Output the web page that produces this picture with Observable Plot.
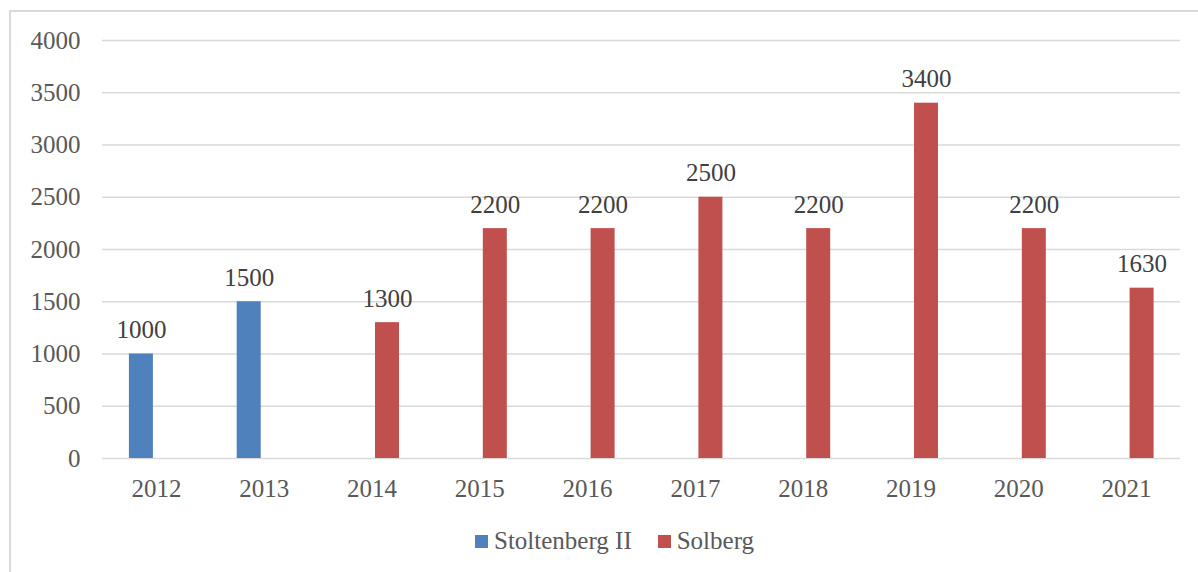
<!DOCTYPE html>
<html>
<head>
<meta charset="utf-8">
<script src="https://cdn.jsdelivr.net/npm/d3@7"></script>
<script src="https://cdn.jsdelivr.net/npm/@observablehq/plot@0.6"></script>
<style>
  body { margin: 0; background: #fff; }
  #wrap { position: relative; width: 1198px; height: 572px; overflow: hidden; font-family: "Liberation Serif", serif; }
  #frame { position: absolute; left: 9px; top: 10px; width: 1210px; height: 580px; border: 2px solid #d9d9d9; box-sizing: border-box; }
  #chart { position: absolute; left: 0; top: 0; }
  #legend { position: absolute; left: 475px; top: 528px; height: 26px; display: flex; align-items: center; font-size: 25px; color: #595959; white-space: nowrap; }
  .sw { display: inline-block; width: 13px; height: 13px; margin-right: 6px; }
  .item { display: flex; align-items: center; margin-right: 26px; }
</style>
</head>
<body>
<div id="wrap">
  <div id="frame"></div>
  <div id="chart"></div>
  <div id="legend"></div>
</div>
<script>
const years = ["2012", "2013", "2014", "2015", "2016", "2017", "2018", "2019", "2020", "2021"];
const series = ["Stoltenberg II", "Solberg"];
const colors = ["#4F81BD", "#C0504D"];
const stoltenberg = [1000, 1500, null, null, null, null, null, null, null, null];
const solberg = [null, null, 1300, 2200, 2200, 2500, 2200, 3400, 2200, 1630];
const yTicks = [0, 500, 1000, 1500, 2000, 2500, 3000, 3500, 4000];

const seriesValues = [stoltenberg, solberg];
const rows = [];
series.forEach((s, si) => {
  years.forEach((y, yi) => {
    const v = seriesValues[si][yi];
    if (v != null) rows.push({ year: y, series: s, value: v });
  });
});

const offsets = { "Stoltenberg II": -15, "Solberg": 15.5 };
const inset = 41.9;

const marks = [
  Plot.ruleY(yTicks, { stroke: "#d9d9d9", strokeWidth: 1.5 }),
  Plot.axisY({ ticks: yTicks, tickFormat: d => String(d), tickSize: 0, tickPadding: 22, label: null, fill: "#595959" }),
  Plot.axisX({ tickSize: 0, tickPadding: 21, label: null, fill: "#595959" })
];
series.forEach(s => {
  const data = rows.filter(d => d.series === s);
  marks.push(Plot.barY(data, {
    x: "year", y: "value", fill: "series",
    insetLeft: inset, insetRight: inset, dx: offsets[s]
  }));
  marks.push(Plot.text(data, {
    x: "year", y: "value", text: d => String(d.value),
    dx: offsets[s], dy: -16, lineAnchor: "bottom", fill: "#404040"
  }));
});

const chart = Plot.plot({
  width: 1198,
  height: 515,
  marginTop: 40,
  marginBottom: 57,
  marginLeft: 102,
  marginRight: 18,
  style: { fontFamily: "'Liberation Serif', serif", fontSize: "25px", background: "transparent", overflow: "visible" },
  x: { type: "band", domain: years, padding: 0, round: false, axis: null },
  y: { domain: [0, 4000], axis: null },
  color: { domain: series, range: colors },
  marks
});
document.getElementById("chart").appendChild(chart);

const legend = document.getElementById("legend");
series.forEach((s, i) => {
  const item = document.createElement("span");
  item.className = "item";
  const sw = document.createElement("span");
  sw.className = "sw";
  sw.style.background = colors[i];
  item.appendChild(sw);
  item.appendChild(document.createTextNode(s));
  legend.appendChild(item);
});
</script>
</body>
</html>
